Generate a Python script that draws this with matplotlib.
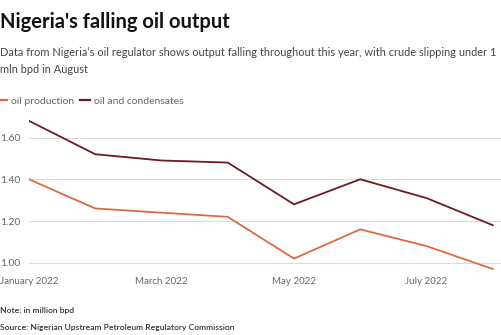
import matplotlib
import matplotlib.pyplot as plt
from matplotlib.lines import Line2D

matplotlib.use('Agg')

plt.rcParams['font.family'] = ['Lato', 'DejaVu Sans']

# Monthly output, million barrels per day
months = ['Jan', 'Feb', 'Mar', 'Apr', 'May', 'Jun', 'Jul', 'Aug']
oil_production = [1.40, 1.26, 1.24, 1.22, 1.02, 1.16, 1.08, 0.97]
oil_and_condensates = [1.68, 1.52, 1.49, 1.48, 1.28, 1.40, 1.31, 1.18]
x_tick_pos = [0, 2, 4, 6]
x_tick_labels = ['January 2022', 'March 2022', 'May 2022', 'July 2022']
y_ticks = [1.00, 1.20, 1.40, 1.60]

orange = '#dd6a3b'
dark_red = '#6e1a1f'
grey_text = '#666666'

fig = plt.figure(figsize=(5.02, 3.35), dpi=100)
fig.patch.set_facecolor('white')

W, H = 502, 335
ax = fig.add_axes([29 / W, (H - 271.1) / H, 1 - 29 / W, 158.6 / H])

x = list(range(len(months)))
ax.plot(x, oil_production, color=orange, linewidth=1.3, solid_joinstyle='miter')
ax.plot(x, oil_and_condensates, color=dark_red, linewidth=1.3, solid_joinstyle='miter')

ax.set_xlim(0, 7.14)
ax.set_ylim(0.96, 1.72)

ax.set_yticks(y_ticks)
ax.set_yticklabels([f'{v:.2f}' for v in y_ticks])
ax.set_xticks(x_tick_pos)
ax.set_xticklabels(x_tick_labels)

ax.tick_params(axis='y', length=0, pad=29 * 0.72, labelsize=7.5, labelcolor=grey_text)
ax.tick_params(axis='x', length=0, pad=4.5, labelsize=7.0, labelcolor=grey_text)
for lbl in ax.get_yticklabels():
    lbl.set_horizontalalignment('left')

ax.grid(axis='y', color='#dcdcdc', linewidth=0.8)
ax.set_axisbelow(True)
for spine in ax.spines.values():
    spine.set_visible(False)

# Header text
fig.text(0, 1 - 28 / H, "Nigeria's falling oil output", fontsize=14.5,
         fontweight='bold', color='#111111', ha='left', va='baseline')
fig.text(0, 1 - 56 / H,
         "Data from Nigeria\u2019s oil regulator shows output falling throughout this year, with crude slipping under 1",
         fontsize=7.95, color='#444444', ha='left', va='baseline')
fig.text(0, 1 - 73 / H, "mln bpd in August", fontsize=7.95, color='#444444',
         ha='left', va='baseline')

# Legend row
handles = [Line2D([0], [0], color=orange, linewidth=1.6),
           Line2D([0], [0], color=dark_red, linewidth=1.6)]
fig.legend(handles, ['oil production', 'oil and condensates'], loc='center left',
           bbox_to_anchor=(-0.005, 1 - 101 / H), ncol=2, frameon=False,
           fontsize=7.5, handlelength=0.9, handletextpad=0.4, columnspacing=0.6,
           borderpad=0, borderaxespad=0, labelcolor=grey_text)

# Footer
fig.text(0, 1 - 313 / H, "Note: in million bpd", fontsize=6.1, color='#333333',
         fontweight='semibold', ha='left', va='baseline')
fig.text(0, 1 - 330 / H, "Source: Nigerian Upstream Petroleum Regulatory Commission",
         fontsize=6.1, color='#333333', fontweight='semibold', ha='left', va='baseline')

plt.savefig('out.png', dpi=100, facecolor=fig.get_facecolor())
plt.close()
